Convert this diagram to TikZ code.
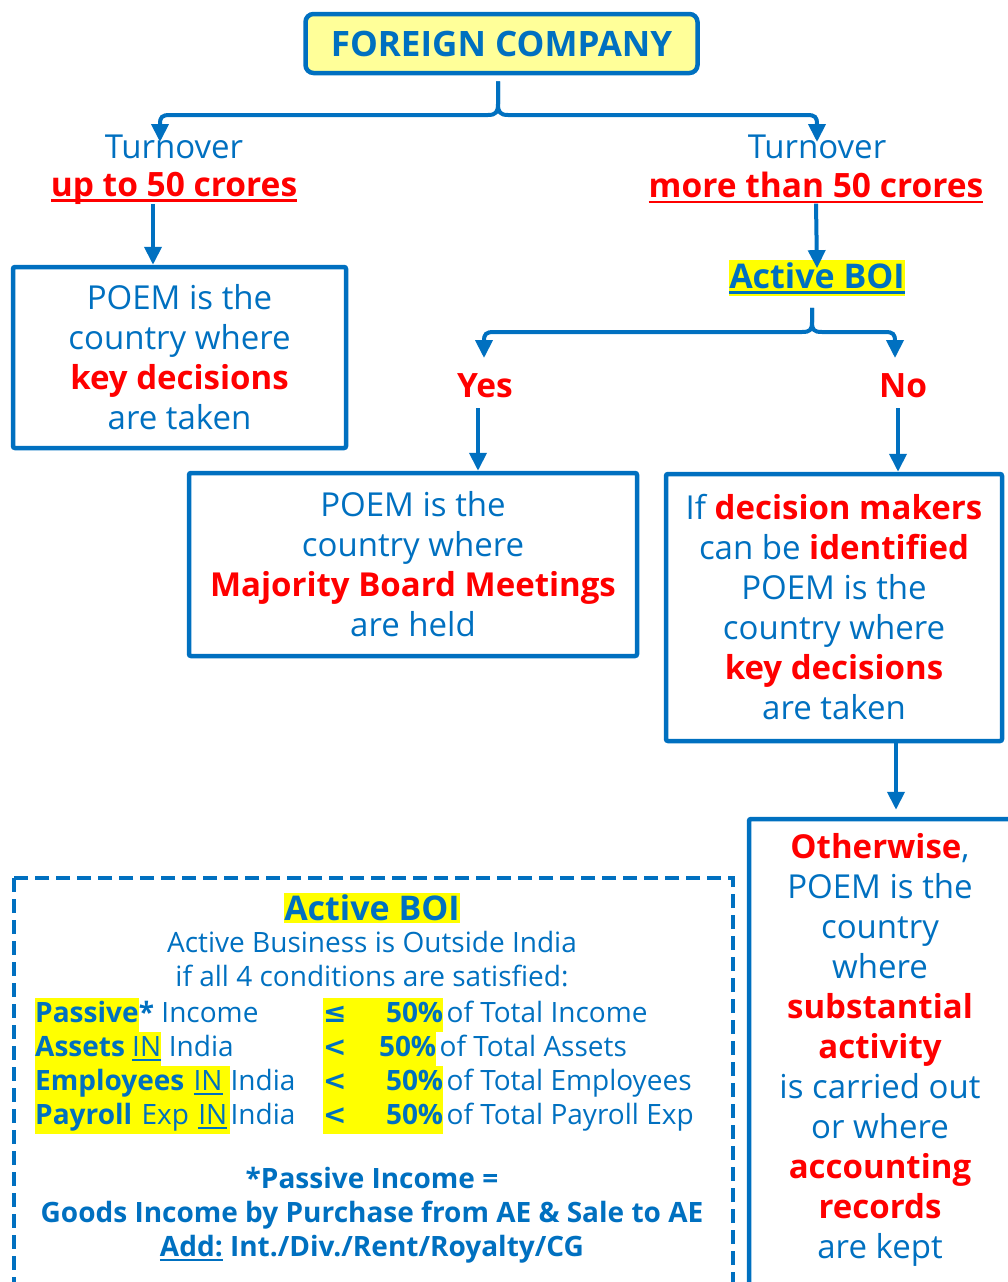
\documentclass[tikz,border=0pt]{standalone}
\usepackage{fontspec}
\setmainfont{Open Sans}
\newfontfamily\symfont{DejaVu Sans}
\usetikzlibrary{arrows.meta, positioning}

\definecolor{poemblue}{HTML}{0070C0}
\definecolor{poemred}{HTML}{FF0000}
\definecolor{poemyellow}{HTML}{FFFF00}
\definecolor{titlefill}{HTML}{FFFF99}

\newsavebox{\ulsave}
\newcommand{\ulx}[2]{\leavevmode\sbox{\ulsave}{#2}\rlap{\rule[\dimexpr-3pt-#1\relax]{\wd\ulsave}{#1}}\usebox{\ulsave}}
\newcommand{\hot}[1]{\textcolor{poemred}{\bfseries #1}}

\tikzset{
  box/.style={draw=poemblue, line width=4.5pt, rounded corners=2pt, align=center,
    text=poemblue, font=\fontsize{33}{40}\selectfont, inner sep=0pt},
  arr/.style={draw=poemblue, line width=4pt, -{Triangle[length=18pt,width=17pt]}},
  lbl/.style={text=poemblue, font=\fontsize{33}{40}\selectfont, inner sep=0pt},
  big/.style={lbl, font=\fontsize{33.5}{40}\selectfont\bfseries},
  row/.style={text=poemblue, font=\fontsize{28}{34}\selectfont, inner xsep=0pt, inner ysep=3pt,
    text height=21pt, text depth=7pt},
  hl/.style={row, fill=poemyellow},
  dashbox/.style={draw=poemblue, line width=4pt, dash pattern=on 14pt off 7pt}
}

\begin{document}
\begin{tikzpicture}[x=1pt, y=-1pt]
    \useasboundingbox (0,0) rectangle (1007,1282);

    % Foreign company and the turnover split
    \node[box, fill=titlefill, rounded corners=8pt, minimum width=392pt, minimum height=59pt,
      font=\fontsize{35}{40}\selectfont\bfseries] (fc) at (501.5,43.5) {FOREIGN COMPANY};

    \node[lbl] (tl) at (174,147) {Turnover};
    \node[big, text=poemred] (tlamt) at (174,188) {\ulx{2.5pt}{up to 50 crores}};
    \node[lbl] (tr) at (817,147) {Turnover};
    \node[big, text=poemred] (tramt) at (816,188) {\ulx{2.5pt}{more than 50 crores}};

    \coordinate (stem) at (498,104);
    \coordinate (lt) at (160,142);
    \coordinate (rt) at (817,142);
    \draw[arr] ([xshift=-3.5pt,yshift=-6pt]fc.south) -- (stem) .. controls (498,112) and (496,115) .. (488,115)
      -- (170,115) .. controls (162,115) and (160,117) .. (160,124) -- (lt);
    \draw[arr] ([xshift=-3.5pt,yshift=-6pt]fc.south) -- (stem) .. controls (498,112) and (500,115) .. (508,115)
      -- (807,115) .. controls (815,115) and (817,117) .. (817,124) -- (rt);

    % Up to 50 crores
    \node[box, minimum width=333pt, minimum height=181pt] (box1) at (179.5,357.5)
      {POEM is the\\country where\\\hot{key decisions}\\are taken};
    \draw[arr] ([xshift=-21pt]tlamt.south) -- ([xshift=-26.5pt]box1.north);

    % More than 50 crores
    \node[big, font=\fontsize{34}{40}\selectfont\bfseries, fill=poemyellow, inner xsep=0pt, inner ysep=2pt] (boi1) at (817,278) {\ulx{2.5pt}{Active BOI}};
    \draw[arr] (tramt.south) -- ([yshift=-8pt]boi1.north);

    \node[big, text=poemred] (yes) at (485,386) {Yes};
    \node[big, text=poemred] (no) at (903,386) {No};

    \coordinate (fork) at (812,322);
    \coordinate (ya) at (484,358);
    \coordinate (na) at (895,358);
    \draw[arr] ([xshift=-5pt,yshift=-12pt]boi1.south) -- (fork) .. controls (812,330) and (810,332) .. (802,332)
      -- (494,332) .. controls (486,332) and (484,334) .. (484,341) -- (ya);
    \draw[arr] ([xshift=-5pt,yshift=-12pt]boi1.south) -- (fork) .. controls (812,330) and (814,332) .. (822,332)
      -- (885,332) .. controls (893,332) and (895,334) .. (895,341) -- (na);

    \node[box, minimum width=448pt, minimum height=183pt] (box2) at (413,564.5)
      {POEM is the\\country where\\\hot{Majority Board Meetings}\\are held};
    \draw[arr] ([xshift=-7pt,yshift=-10pt]yes.south) -- ([xshift=65pt]box2.north);

    \node[box, minimum width=336pt, minimum height=267pt] (box3) at (834,607.5)
      {If \hot{decision makers}\\can be \hot{identified}\\POEM is the\\country where\\\hot{key decisions}\\are taken};
    \draw[arr] ([xshift=-5pt,yshift=-10pt]no.south) -- ([xshift=64pt]box3.north);

    % Otherwise
    \node[box, minimum width=266pt, minimum height=471pt] (box4) at (882,1054.5) {};
    \node[lbl, align=center] (box4t) at (880,1049.5)
      {\hot{Otherwise},\\POEM is the\\country\\where\\\hot{substantial}\\\hot{activity}\\is carried out\\or where\\\hot{accounting}\\\hot{records}\\are kept};
    \draw[arr] ([xshift=62pt]box3.south) -- ([xshift=14pt,yshift=7pt]box4.north);

    % Active BOI conditions
    \draw[dashbox] (14,878) rectangle (733,1300);
    \node[big, font=\fontsize{34}{40}\selectfont\bfseries, fill=poemyellow, inner xsep=0pt, inner ysep=2pt] (boi2) at (372,908) {Active BOI};
    \node[row] (def1) at (372,945) {Active Business is Outside India};
    \node[row] (def2) at (372,979) {if all 4 conditions are satisfied:};

    \node[hl, anchor=base west] (c1a) at (35,1022) {\bfseries Passive};
    \node[row, anchor=base west] (c1b) at (c1a.base east) {\textbf{*} Income};
    \node[hl, anchor=base west] (c2a) at (35,1056) {\textbf{Assets} \ulx{1.8pt}{IN}};
    \node[row, anchor=base west] (c2b) at (c2a.base east) {\ India};
    \node[hl, anchor=base west, text width=195pt, align=left] (c3a) at (35,1090) {\textbf{Employees} \ulx{1.8pt}{IN}};
    \node[row, anchor=base west] (c3b) at (c3a.base east) {India};
    \node[hl, anchor=base west, text width=195pt, align=left] (c4a) at (35,1124) {\textbf{Payroll} Exp \ulx{1.8pt}{IN}};
    \node[row, anchor=base west] (c4b) at (c4a.base east) {India};

    \node[hl, anchor=base west, text width=120pt] (v1) at (323,1022) {{\symfont\bfseries ≤}\hfill\textbf{50\%}};
    \node[row, anchor=base west] (v1r) at ([xshift=3pt]v1.base east) {of Total Income};
    \node[hl, anchor=base west, text width=113pt] (v2) at (323,1056) {{\symfont\bfseries <}\hfill\textbf{50\%}};
    \node[row, anchor=base west] (v2r) at ([xshift=3pt]v2.base east) {of Total Assets};
    \node[hl, anchor=base west, text width=120pt] (v3) at (323,1090) {{\symfont\bfseries <}\hfill\textbf{50\%}};
    \node[row, anchor=base west] (v3r) at ([xshift=3pt]v3.base east) {of Total Employees};
    \node[hl, anchor=base west, text width=120pt] (v4) at (323,1124) {{\symfont\bfseries <}\hfill\textbf{50\%}};
    \node[row, anchor=base west] (v4r) at ([xshift=3pt]v4.base east) {of Total Payroll Exp};

    \node[row, font=\fontsize{28}{34}\selectfont\bfseries] (pi1) at (372,1181) {*Passive Income =};
    \node[row, font=\fontsize{28}{34}\selectfont\bfseries] (pi2) at (372,1215) {Goods Income by Purchase from AE \& Sale to AE};
    \node[row, font=\fontsize{28}{34}\selectfont\bfseries] (pi3) at (372,1249) {\ulx{2pt}{Add:} Int./Div./Rent/Royalty/CG};
\end{tikzpicture}
\end{document}
